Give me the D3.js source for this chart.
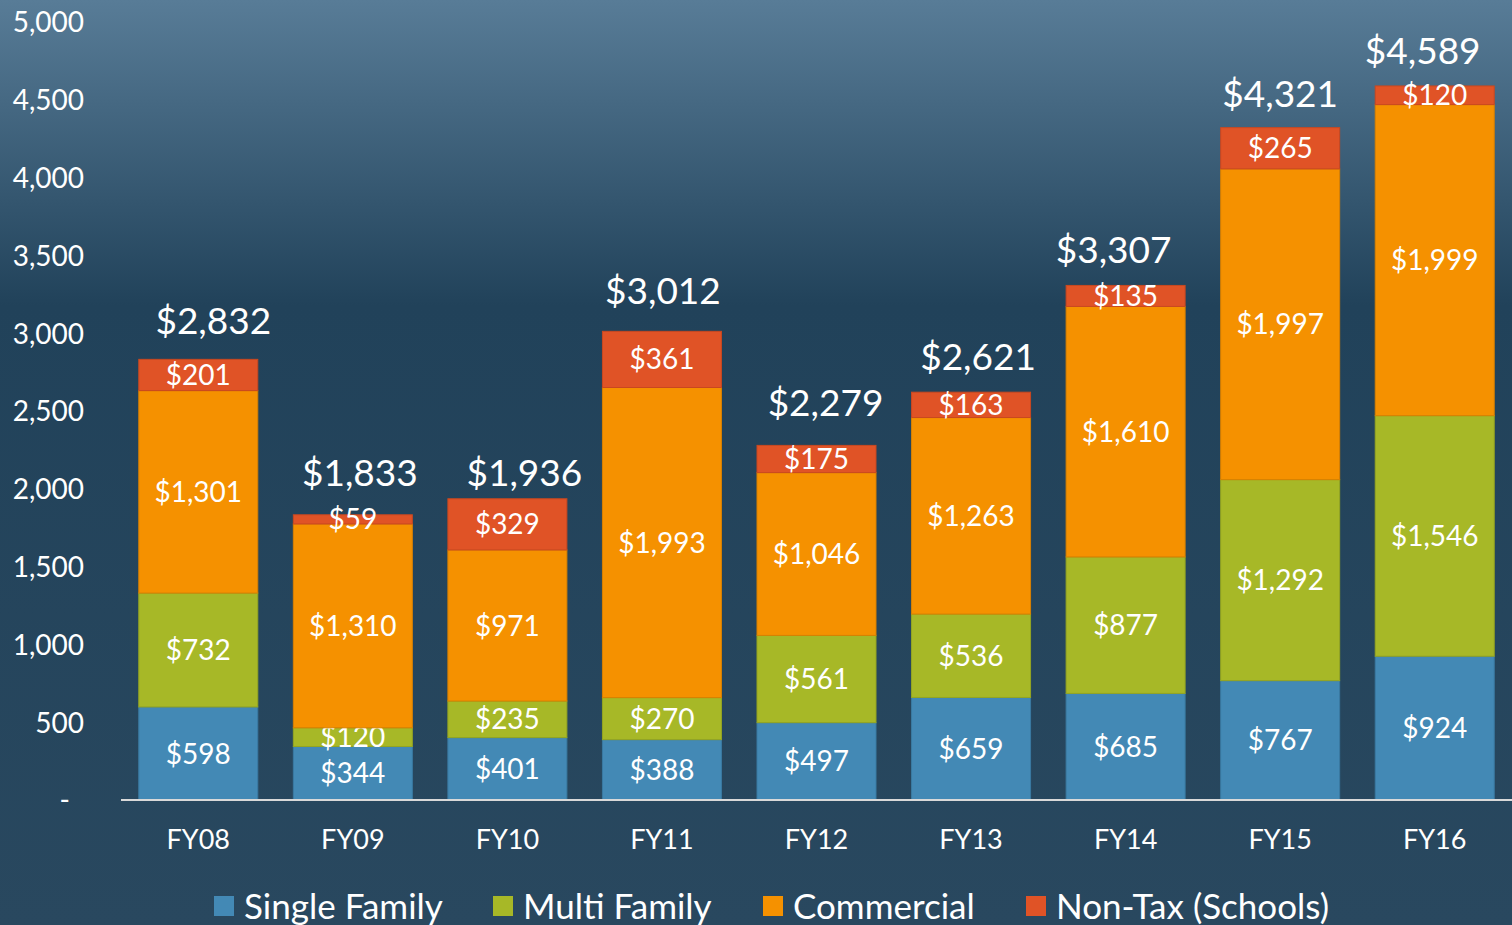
<!DOCTYPE html>
<html>
<head>
<meta charset="utf-8">
<script src="https://cdn.jsdelivr.net/npm/d3@7"></script>
<style>
  html, body { margin: 0; padding: 0; overflow: hidden; }
  svg { display: block; font-family: Lato, "Open Sans", sans-serif; }
</style>
</head>
<body>
<figure id="bar" style="margin:0"></figure>
<script>
const years = ["FY08", "FY09", "FY10", "FY11", "FY12", "FY13", "FY14", "FY15", "FY16"];
const singleFamily = [598, 344, 401, 388, 497, 659, 685, 767, 924];
const multiFamily = [732, 120, 235, 270, 561, 536, 877, 1292, 1546];
const commercial = [1301, 1310, 971, 1993, 1046, 1263, 1610, 1997, 1999];
const nonTax = [201, 59, 329, 361, 175, 163, 135, 265, 120];
const seriesNames = ["Single Family", "Multi Family", "Commercial", "Non-Tax (Schools)"];
const yTicks = [0, 500, 1000, 1500, 2000, 2500, 3000, 3500, 4000, 4500, 5000];

const colors = ["#4389b5", "#a7b827", "#f59100", "#e05326"];
const strokes = ["#3a7aa2", "#95a521", "#d98000", "#c94820"];

// hand-placed total labels in the original: nudge x, and gap above bar top
const totalDx = [15, 7, 17, 1, 9, 7, -12, 0, -12];
const totalGap = [39, 42, 26, 41, 43, 35, 36, 34, 35];

const width = 1512, height = 925;

const svg = d3.select("figure#bar")
  .append("svg")
  .attr("width", width)
  .attr("height", height);

// background gradient
const grad = svg.append("defs").append("linearGradient")
  .attr("id", "bg").attr("x1", 0).attr("y1", 0).attr("x2", 0).attr("y2", 1);
grad.append("stop").attr("offset", "0%").attr("stop-color", "#587c97");
grad.append("stop").attr("offset", "33%").attr("stop-color", "#21425a");
grad.append("stop").attr("offset", "100%").attr("stop-color", "#29485f");
svg.append("rect").attr("width", width).attr("height", height).attr("fill", "url(#bg)");

// build stacked table
const table = years.map((y, i) => ({
  year: y,
  "Single Family": singleFamily[i],
  "Multi Family": multiFamily[i],
  "Commercial": commercial[i],
  "Non-Tax (Schools)": nonTax[i]
}));
const stacked = d3.stack().keys(seriesNames)(table);

const x = d3.scaleBand()
  .domain(years)
  .range([121, 1512])
  .paddingInner(0.23)
  .paddingOuter(0.115);

const y = d3.scaleLinear()
  .domain([0, 5000])
  .range([800, 22]);

// Y axis labels
const yAxis = svg.append("g")
  .attr("transform", "translate(84,0)")
  .call(d3.axisLeft(y).tickValues(yTicks).tickSize(0).tickPadding(0)
    .tickFormat(d => d === 0 ? "-" : d3.format(",")(d)));
yAxis.select(".domain").remove();
yAxis.selectAll("text")
  .attr("fill", "#ffffff")
  .style("font-size", "28px")
  .style("font-family", "Lato, sans-serif")
  .attr("dy", "0.35em")
  .attr("dx", d => d === 0 ? -14 : 0);

// bars
const groups = svg.selectAll("g.series")
  .data(stacked)
  .enter().append("g")
  .attr("class", "series");

groups.selectAll("rect")
  .data((s, si) => s.map(d => ({d, si})))
  .enter().append("rect")
  .attr("x", o => x(o.d.data.year))
  .attr("y", o => y(o.d[1]))
  .attr("width", x.bandwidth())
  .attr("height", o => y(o.d[0]) - y(o.d[1]))
  .attr("fill", o => colors[o.si])
  .attr("stroke", o => strokes[o.si])
  .attr("stroke-width", 1);

// segment labels
groups.selectAll("text")
  .data(s => s)
  .enter().append("text")
  .attr("x", d => x(d.data.year) + x.bandwidth() / 2)
  .attr("y", d => (y(d[0]) + y(d[1])) / 2)
  .attr("dy", "0.36em")
  .attr("text-anchor", "middle")
  .attr("fill", "#ffffff")
  .style("font-size", "28px")
  .text(d => "$" + d3.format(",")(d[1] - d[0]));

// totals
svg.selectAll("text.total")
  .data(table)
  .enter().append("text")
  .attr("class", "total")
  .attr("x", (d, i) => x(d.year) + x.bandwidth() / 2 + totalDx[i])
  .attr("y", (d, i) => y(d3.sum(seriesNames, k => d[k])) - totalGap[i])
  .attr("dy", "0.36em")
  .attr("text-anchor", "middle")
  .attr("fill", "#ffffff")
  .style("font-size", "37px")
  .text(d => "$" + d3.format(",")(d3.sum(seriesNames, k => d[k])));

// X axis
const xAxis = svg.append("g")
  .attr("transform", "translate(0,800)")
  .call(d3.axisBottom(x).tickSize(0).tickPadding(30));
xAxis.select(".domain")
  .attr("stroke", "#d9d9d9")
  .attr("stroke-width", 2)
  .attr("d", "M121,0H1512");
xAxis.selectAll("text")
  .attr("fill", "#ffffff")
  .style("font-size", "27px")
  .style("font-family", "Lato, sans-serif");

// legend
const legendX = [214, 493, 763, 1026];
const legend = svg.selectAll("g.legend")
  .data(seriesNames)
  .enter().append("g")
  .attr("class", "legend")
  .attr("transform", (d, i) => `translate(${legendX[i]},896)`);
legend.append("rect")
  .attr("width", 20).attr("height", 20)
  .attr("fill", (d, i) => colors[i]);
legend.append("text")
  .attr("x", 30).attr("y", 10)
  .attr("dy", "0.36em")
  .attr("fill", "#ffffff")
  .style("font-size", "35px")
  .text(d => d);
</script>
</body>
</html>
